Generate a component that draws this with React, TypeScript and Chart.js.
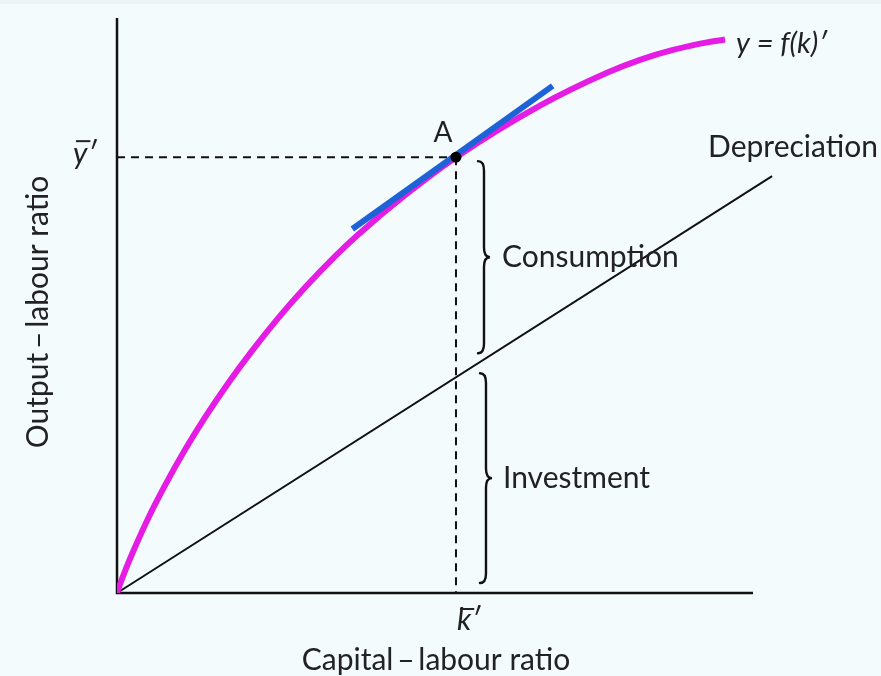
import React, { useEffect, useRef } from "react";
import { Chart, registerables } from "chart.js";

Chart.register(...registerables);

// Production function y = f(k)' (capital–labour ratio k, output–labour ratio y)
const outputK = [0, 0.47, 1.57, 2.52, 4.87, 7.55, 10.69, 13.84, 17.45, 21.23, 25.31, 29.56, 34.28, 37.89, 45.28, 53.3, 66.51, 77.04, 82.23, 87.42, 92.77, 95.6];
const outputY = [0, 1.51, 4.68, 7.18, 12.92, 18.71, 24.9, 30.54, 36.45, 42.12, 47.77, 53.13, 58.56, 62.31, 69.18, 75.8, 84.78, 90.49, 92.73, 94.45, 95.76, 96.26];
// Depreciation line
const depreciationK = [0, 103];
const depreciationY = [0, 72.5];
// Tangent at point A
const tangentK = [37.0, 68.5];
const tangentY = [63.3, 88.2];
// Steady state point A (k̄', ȳ')
const steadyK = [53.3];
const steadyY = [75.8];
// Axis ranges
const axisK = [0, 100];
const axisY = [0, 100];

// Text
const xTitle = "Capital\u2009\u2013\u2009labour ratio";
const yTitle = "Output\u2009\u2013\u2009labour ratio";
const curveLabel = "y = f(k)\u2032";
const depLabel = "Depreciation";
const consLabel = "Consumption";
const invLabel = "Investment";
const pointLabel = "A";

const FONT = "Lato, 'Noto Sans', sans-serif";
const TEXT = "#222222";
const BG = "#f4fbfd";

function brace(ctx: CanvasRenderingContext2D, x: number, yTop: number, yBot: number, r: number) {
  const ym = (yTop + yBot) / 2;
  ctx.beginPath();
  ctx.moveTo(x - r, yTop);
  ctx.quadraticCurveTo(x, yTop, x, yTop + r * 1.6);
  ctx.lineTo(x, ym - r * 1.6);
  ctx.quadraticCurveTo(x, ym, x + r, ym);
  ctx.quadraticCurveTo(x, ym, x, ym + r * 1.6);
  ctx.lineTo(x, yBot - r * 1.6);
  ctx.quadraticCurveTo(x, yBot, x - r, yBot);
  ctx.stroke();
}

const decor = {
  id: "decor",
  beforeDraw(chart: any) {
    const ctx = chart.ctx;
    ctx.save();
    ctx.fillStyle = BG;
    ctx.fillRect(0, 0, chart.width, chart.height);
    ctx.fillStyle = "#eef3f5";
    ctx.fillRect(0, 0, chart.width, 4);
    ctx.restore();
  },
  beforeDatasetsDraw(chart: any) {
    const ctx = chart.ctx;
    const xs = chart.scales.x;
    const ys = chart.scales.y;
    const x0 = xs.getPixelForValue(axisK[0]);
    const x1 = xs.getPixelForValue(axisK[1]);
    const y0 = ys.getPixelForValue(axisY[0]);
    const y1 = ys.getPixelForValue(axisY[1]);
    ctx.save();
    ctx.strokeStyle = "#111";
    ctx.lineWidth = 2.5;
    ctx.beginPath();
    ctx.moveTo(x0, y1);
    ctx.lineTo(x0, y0);
    ctx.lineTo(x1, y0);
    ctx.stroke();
    ctx.restore();
  },
  afterDatasetsDraw(chart: any) {
    const ctx = chart.ctx;
    const xs = chart.scales.x;
    const ys = chart.scales.y;
    const x0 = xs.getPixelForValue(axisK[0]);
    const y0 = ys.getPixelForValue(axisY[0]);
    const kx = xs.getPixelForValue(steadyK[0]);
    const ay = ys.getPixelForValue(steadyY[0]);
    const slope = depreciationY[1] / depreciationK[1];
    const dy = ys.getPixelForValue(steadyK[0] * slope);
    const endX = xs.getPixelForValue(outputK[outputK.length - 1]);
    const endY = ys.getPixelForValue(outputY[outputY.length - 1]);
    const depX = xs.getPixelForValue(depreciationK[1]);
    const depY = ys.getPixelForValue(depreciationY[1]);

    ctx.save();
    // braces
    ctx.strokeStyle = "#111";
    ctx.lineWidth = 2.4;
    ctx.lineCap = "round";
    brace(ctx, kx + 28, ay + 4, dy - 24, 6);
    brace(ctx, kx + 30, dy - 4, y0 - 10, 6);

    ctx.fillStyle = TEXT;
    ctx.textBaseline = "alphabetic";

    // Labels (upright)
    ctx.font = `30px ${FONT}`;
    ctx.textAlign = "left";
    ctx.textBaseline = "middle";
    ctx.fillText(consLabel, kx + 46, (ay + dy - 20) / 2);
    ctx.fillText(invLabel, kx + 47, (dy + y0 - 14) / 2);
    ctx.textBaseline = "alphabetic";
    ctx.fillText(depLabel, depX - 64, depY - 19);

    // A
    ctx.font = `28px ${FONT}`;
    ctx.textAlign = "center";
    ctx.fillText(pointLabel, kx - 13, ay - 15);

    // curve label
    ctx.font = `italic 29px ${FONT}`;
    ctx.textAlign = "left";
    ctx.fillText(curveLabel, endX + 11, endY + 13);

    // ȳ' label
    ctx.font = `italic 30px ${FONT}`;
    ctx.textAlign = "left";
    const yw = ctx.measureText("y").width;
    ctx.fillText("y\u2032", x0 - 44, ay + 7);
    ctx.strokeStyle = TEXT;
    ctx.lineWidth = 2;
    ctx.lineCap = "butt";
    ctx.beginPath();
    ctx.moveTo(x0 - 44 + 3, ay - 16);
    ctx.lineTo(x0 - 44 + yw + 3, ay - 16);
    ctx.stroke();

    // k̄' label
    const kw = ctx.measureText("k").width;
    ctx.fillText("k\u2032", kx + 1, y0 + 37);
    ctx.beginPath();
    ctx.moveTo(kx + 4, y0 + 16);
    ctx.lineTo(kx + 4 + kw, y0 + 16);
    ctx.stroke();

    // axis titles
    ctx.font = `30px ${FONT}`;
    ctx.textAlign = "center";
    ctx.fillText(xTitle, (x0 + xs.getPixelForValue(axisK[1])) / 2 + 1, y0 + 77);
    ctx.save();
    ctx.translate(48, 312);
    ctx.rotate(-Math.PI / 2);
    ctx.fillText(yTitle, 0, 0);
    ctx.restore();

    ctx.restore();
  },
};

export default function App() {
  const ref = useRef<HTMLCanvasElement | null>(null);
  useEffect(() => {
    document.body.style.margin = "0";
    document.body.style.background = BG;
    const canvas = ref.current;
    if (!canvas) return;
    const pts = (ks: number[], ys: number[]) => ks.map((k, i) => ({ x: k, y: ys[i] }));
    const chart = new Chart(canvas, {
      type: "scatter",
      data: {
        datasets: [
          {
            label: "A",
            data: pts(steadyK, steadyY),
            showLine: false,
            pointRadius: 5.5,
            pointBackgroundColor: "#000",
            pointBorderColor: "#000",
            pointBorderWidth: 0,
            order: 0,
          },
          {
            label: "tangent",
            data: pts(tangentK, tangentY),
            showLine: true,
            borderColor: "#1d62d6",
            borderWidth: 6,
            pointRadius: 0,
            order: 1,
          },
          {
            label: "y = f(k)'",
            data: pts(outputK, outputY),
            showLine: true,
            borderColor: "#e41ce4",
            borderWidth: 6,
            pointRadius: 0,
            cubicInterpolationMode: "monotone",
            order: 2,
          },
          {
            label: "ybar",
            data: [
              { x: axisK[0], y: steadyY[0] },
              { x: steadyK[0], y: steadyY[0] },
            ],
            showLine: true,
            borderColor: "#111",
            borderWidth: 2,
            borderDash: [8, 6],
            pointRadius: 0,
            order: 3,
          },
          {
            label: "kbar",
            data: [
              { x: steadyK[0], y: steadyY[0] },
              { x: steadyK[0], y: axisY[0] },
            ],
            showLine: true,
            borderColor: "#111",
            borderWidth: 2,
            borderDash: [8, 6],
            pointRadius: 0,
            order: 3,
          },
          {
            label: "Depreciation",
            data: pts(depreciationK, depreciationY),
            showLine: true,
            borderColor: "#111",
            borderWidth: 2,
            pointRadius: 0,
            clip: false,
            order: 4,
          },
        ],
      } as any,
      options: {
        responsive: false,
        animation: false,
        devicePixelRatio: 1,
        layout: { padding: { left: 117, right: 128, top: 18, bottom: 83 } },
        plugins: { legend: { display: false }, tooltip: { enabled: false } },
        events: [],
        scales: {
          x: { type: "linear", min: axisK[0], max: axisK[1], display: false },
          y: { type: "linear", min: axisY[0], max: axisY[1], display: false },
        },
      } as any,
      plugins: [decor],
    });
    return () => chart.destroy();
  }, []);
  return (
    <div style={{ width: 881, height: 676 }}>
      <canvas ref={ref} width={881} height={676} style={{ display: "block" }} />
    </div>
  );
}
